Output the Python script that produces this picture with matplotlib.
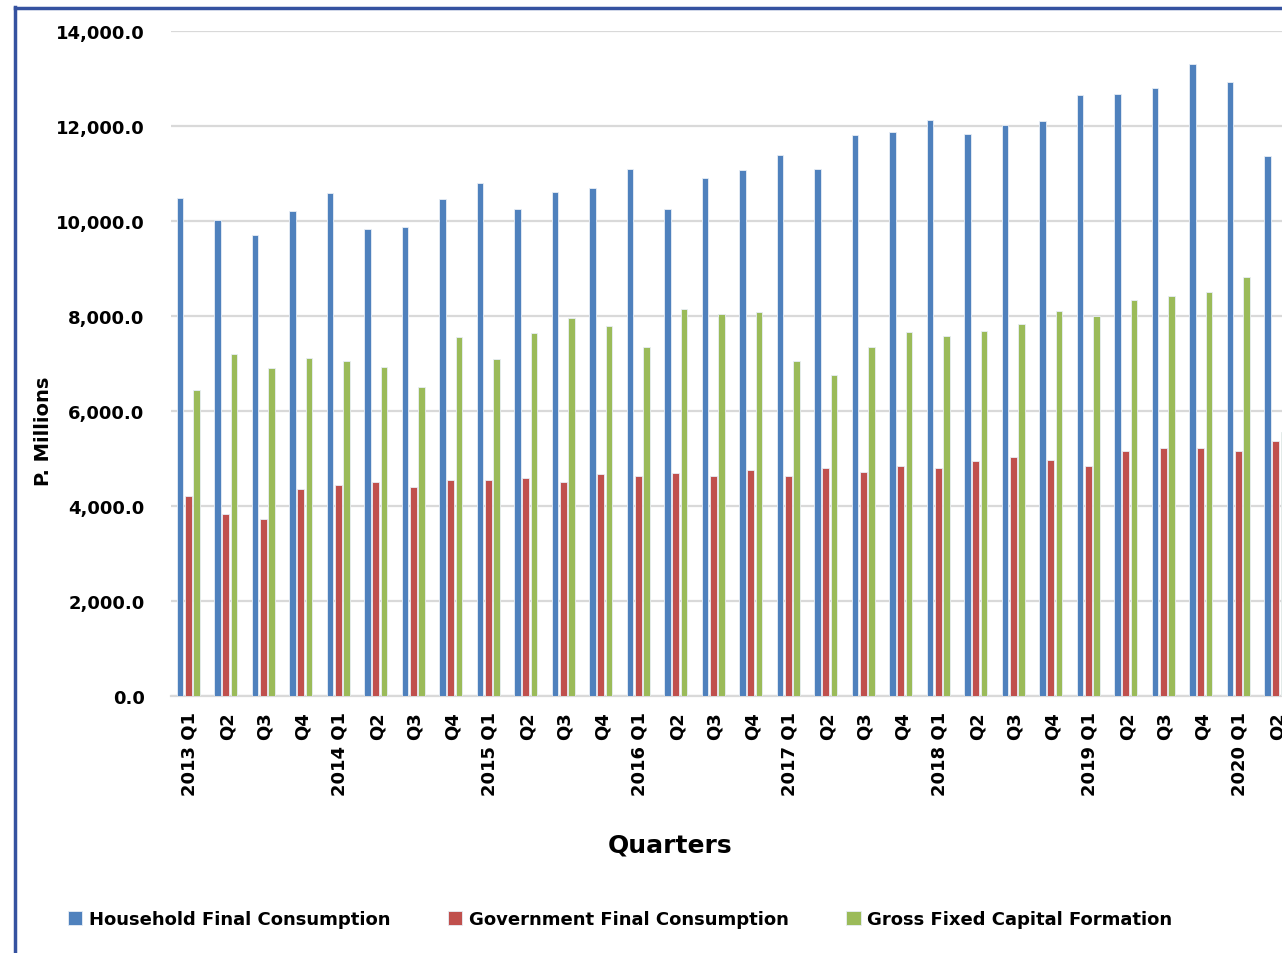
import matplotlib.pyplot as plt
import numpy as np
from matplotlib.lines import Line2D
from matplotlib.ticker import FuncFormatter

# quarterly series, P. millions
quarters = ['2013 Q1', 'Q2', 'Q3', 'Q4',
            '2014 Q1', 'Q2', 'Q3', 'Q4',
            '2015 Q1', 'Q2', 'Q3', 'Q4',
            '2016 Q1', 'Q2', 'Q3', 'Q4',
            '2017 Q1', 'Q2', 'Q3', 'Q4',
            '2018 Q1', 'Q2', 'Q3', 'Q4',
            '2019 Q1', 'Q2', 'Q3', 'Q4',
            '2020 Q1', 'Q2']

household = [10480, 10030, 9700, 10220, 10580, 9825, 9870, 10455,
             10790, 10250, 10620, 10700, 11085, 10255, 10895, 11080,
             11385, 11100, 11820, 11875, 12130, 11836, 12028, 12110,
             12647, 12684, 12793, 13304, 12921, 11363]
government = [4210, 3830, 3730, 4360, 4445, 4510, 4400, 4540,
              4540, 4595, 4507, 4682, 4640, 4690, 4640, 4748,
              4640, 4798, 4723, 4840, 4795, 4957, 5030, 4975,
              4838, 5167, 5221, 5212, 5157, 5376]
gfcf = [6450, 7190, 6897, 7107, 7047, 6935, 6507, 7558,
        7092, 7648, 7958, 7800, 7343, 8150, 8050, 8075,
        7052, 6761, 7343, 7659, 7570, 7691, 7836, 8101,
        8000, 8328, 8419, 8502, 8820, 5558]

series_names = ['Household Final Consumption',
                'Government Final Consumption',
                'Gross Fixed Capital Formation']
colors = ['#4F81BD', '#C0504D', '#9BBB59']

plt.rcParams['font.family'] = 'DejaVu Sans'
plt.rcParams['font.weight'] = 'bold'

fig = plt.figure(figsize=(12.82, 9.54), dpi=100)
# axes run past the right edge of the figure
ax = fig.add_axes([171 / 1282, 257 / 954, 1125 / 1282, 665 / 954])

x = np.arange(len(quarters))
pitch = 0.215
width = 0.175
for i, (vals, name, col) in enumerate(zip([household, government, gfcf], series_names, colors)):
    ax.bar(x + (i - 1) * pitch - 0.04, vals, width, color=col, edgecolor='#E8EEF6',
           linewidth=0.6, label=name, zorder=3)

ax.set_xlim(-0.5, len(quarters) - 0.5)
ax.set_ylim(0, 14000)
ax.set_yticks(np.arange(0, 14001, 2000))
ax.yaxis.set_major_formatter(FuncFormatter(lambda v, p: f'{v:,.1f}'))
ax.set_xticks(x)
ax.set_xticklabels(quarters, rotation=90)
ax.tick_params(axis='y', length=0, pad=19, labelsize=13)
ax.tick_params(axis='x', length=0, pad=11, labelsize=13)

ax.grid(axis='y', color='#D9D9D9', linewidth=1.6, zorder=0)
for s in ['top', 'right', 'left']:
    ax.spines[s].set_visible(False)
ax.spines['bottom'].set_color('#D9D9D9')
ax.spines['bottom'].set_linewidth(1.6)

ax.set_ylabel('P. Millions', fontsize=14, fontweight='bold')
ax.yaxis.set_label_coords(-118 / 1125, 0.4)
fig.text(670 / 1282, 1 - 846 / 954, 'Quarters', fontsize=18, fontweight='bold',
         ha='center', va='center')

fig.legend(loc='center', bbox_to_anchor=(620 / 1282, 1 - 920 / 954), ncol=3,
           frameon=False, fontsize=13, handlelength=0.8, handleheight=0.8,
           handletextpad=0.35, columnspacing=3.2)

# frame around the chart
fig.add_artist(Line2D([15 / 1282, 15 / 1282], [0, 1 - 8 / 954], color='#3552A0',
                      linewidth=2.5, transform=fig.transFigure))
fig.add_artist(Line2D([15 / 1282, 1], [1 - 9 / 954, 1 - 9 / 954], color='#3552A0',
                      linewidth=2.5, transform=fig.transFigure))

plt.savefig('out.png', dpi=100)
